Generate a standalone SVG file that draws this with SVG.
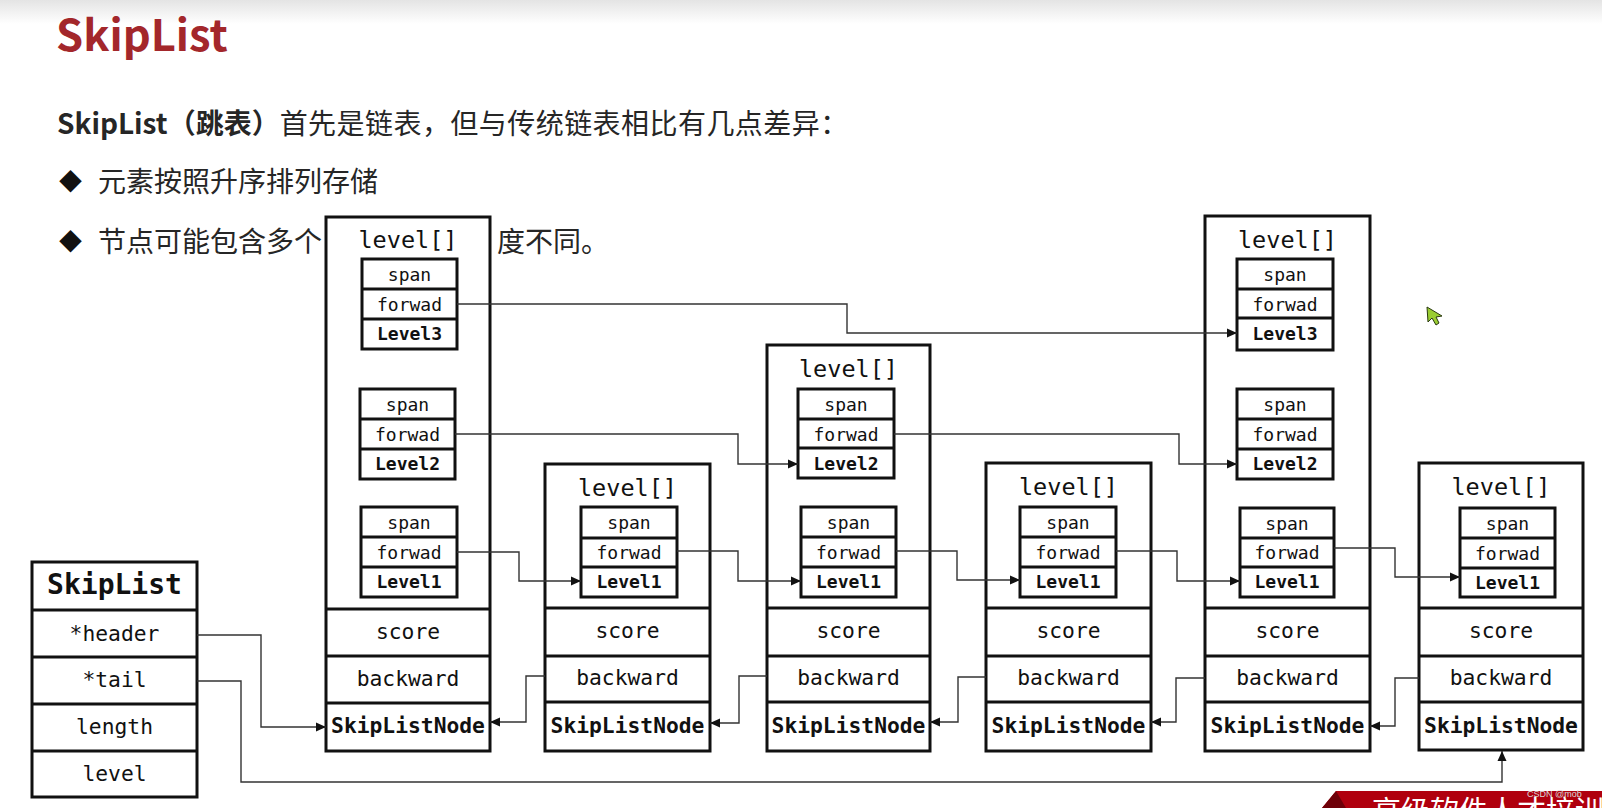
<svg xmlns="http://www.w3.org/2000/svg" width="1602" height="808" viewBox="0 0 1602 808">
<style>
.box{fill:#fff;stroke:#111;stroke-width:3}
.ib{fill:none;stroke:#111;stroke-width:3}
.sep{stroke:#111;stroke-width:3}
.mono{font-family:"DejaVu Sans Mono","Liberation Mono",monospace;fill:#111;text-anchor:middle}
.lv{font-size:23.5px}
.fd{font-size:21.3px}
.fb{font-size:21.3px;font-weight:bold}
.sm{font-size:18px}
.smb{font-size:18px;font-weight:bold}
.ttl{font-size:28px;font-weight:bold}
.cn{font-family:"Noto Sans CJK SC","Noto Sans",sans-serif;fill:#262626;font-size:28px}
.dia{font-family:"Noto Sans CJK SC","Noto Sans",sans-serif;fill:#111;font-size:23px}
.conn{fill:none;stroke:#333;stroke-width:1.4}
</style>
<defs>
<linearGradient id="topg" x1="0" y1="0" x2="0" y2="1">
<stop offset="0" stop-color="#e4e4e4"/>
<stop offset="1" stop-color="#ffffff"/>
</linearGradient>
<marker id="arr" markerWidth="11" markerHeight="10" refX="10" refY="5" orient="auto" markerUnits="userSpaceOnUse">
<path d="M0,0.5 L10,5 L0,9.5 z" fill="#111"/>
</marker>
</defs>
<rect x="0" y="0" width="1602" height="808" fill="#fff"/>
<rect x="0" y="0" width="1602" height="24" fill="url(#topg)"/>

<g id="header-text">
<text x="56" y="51" font-family="'Noto Sans CJK SC','Noto Sans',sans-serif" font-weight="bold" font-size="43.5" fill="#a3272b">SkipList</text>
<text class="cn" x="57" y="134"><tspan font-weight="bold">SkipList（跳表）</tspan><tspan letter-spacing="0.45">首先是链表，但与传统链表相比有几点差异：</tspan></text>
<text class="dia" x="59" y="190">◆</text>
<text class="cn" x="98" y="192">元素按照升序排列存储</text>
<text class="dia" x="59" y="250">◆</text>
<text class="cn" x="98" y="252">节点可能包含多个</text>
<text class="cn" x="497" y="252">度不同。</text>
</g>

<g id="skiplist">
<rect class="box" x="32" y="562" width="165" height="235"/>
<line class="sep" x1="32" y1="610" x2="197" y2="610"/>
<line class="sep" x1="32" y1="657" x2="197" y2="657"/>
<line class="sep" x1="32" y1="704" x2="197" y2="704"/>
<line class="sep" x1="32" y1="751" x2="197" y2="751"/>
<text class="mono ttl" x="114.5" y="594">SkipList</text>
<text class="mono fd" x="114.5" y="641">*header</text>
<text class="mono fd" x="114.5" y="687">*tail</text>
<text class="mono fd" x="114.5" y="734">length</text>
<text class="mono fd" x="114.5" y="781">level</text>
</g>

<g id="node1">
<rect class="box" x="326" y="217" width="164" height="534"/>
<line class="sep" x1="326" y1="609" x2="490" y2="609"/>
<line class="sep" x1="326" y1="656" x2="490" y2="656"/>
<line class="sep" x1="326" y1="703" x2="490" y2="703"/>
<text class="mono lv" x="408" y="248">level[]</text>
<rect class="ib" x="362" y="259" width="95" height="90"/>
<line class="sep" x1="362" y1="289" x2="457" y2="289"/>
<line class="sep" x1="362" y1="319" x2="457" y2="319"/>
<text class="mono sm" x="409.5" y="281">span</text>
<text class="mono sm" x="409.5" y="311">forwad</text>
<text class="mono smb" x="409.5" y="340">Level3</text>
<rect class="ib" x="360" y="389" width="95" height="90"/>
<line class="sep" x1="360" y1="419" x2="455" y2="419"/>
<line class="sep" x1="360" y1="449" x2="455" y2="449"/>
<text class="mono sm" x="407.5" y="411">span</text>
<text class="mono sm" x="407.5" y="441">forwad</text>
<text class="mono smb" x="407.5" y="470">Level2</text>
<rect class="ib" x="361" y="507" width="96" height="90"/>
<line class="sep" x1="361" y1="537" x2="457" y2="537"/>
<line class="sep" x1="361" y1="567" x2="457" y2="567"/>
<text class="mono sm" x="409" y="529">span</text>
<text class="mono sm" x="409" y="559">forwad</text>
<text class="mono smb" x="409" y="588">Level1</text>
<text class="mono fd" x="408" y="639">score</text>
<text class="mono fd" x="408" y="686">backward</text>
<text class="mono fb" x="408" y="733">SkipListNode</text>
</g>

<g id="node2">
<rect class="box" x="545" y="464" width="165" height="287"/>
<line class="sep" x1="545" y1="608" x2="710" y2="608"/>
<line class="sep" x1="545" y1="656" x2="710" y2="656"/>
<line class="sep" x1="545" y1="702" x2="710" y2="702"/>
<text class="mono lv" x="627.5" y="496">level[]</text>
<rect class="ib" x="581" y="507" width="96" height="90"/>
<line class="sep" x1="581" y1="538" x2="677" y2="538"/>
<line class="sep" x1="581" y1="567" x2="677" y2="567"/>
<text class="mono sm" x="629" y="529">span</text>
<text class="mono sm" x="629" y="559">forwad</text>
<text class="mono smb" x="629" y="588">Level1</text>
<text class="mono fd" x="627.5" y="638">score</text>
<text class="mono fd" x="627.5" y="685">backward</text>
<text class="mono fb" x="627.5" y="733">SkipListNode</text>
</g>

<g id="node3">
<rect class="box" x="767" y="345" width="163" height="406"/>
<line class="sep" x1="767" y1="608" x2="930" y2="608"/>
<line class="sep" x1="767" y1="656" x2="930" y2="656"/>
<line class="sep" x1="767" y1="702" x2="930" y2="702"/>
<text class="mono lv" x="848.5" y="377">level[]</text>
<rect class="ib" x="798" y="389" width="96" height="89"/>
<line class="sep" x1="798" y1="419" x2="894" y2="419"/>
<line class="sep" x1="798" y1="448" x2="894" y2="448"/>
<text class="mono sm" x="846" y="411">span</text>
<text class="mono sm" x="846" y="441">forwad</text>
<text class="mono smb" x="846" y="470">Level2</text>
<rect class="ib" x="801" y="507" width="95" height="90"/>
<line class="sep" x1="801" y1="537" x2="896" y2="537"/>
<line class="sep" x1="801" y1="567" x2="896" y2="567"/>
<text class="mono sm" x="848.5" y="529">span</text>
<text class="mono sm" x="848.5" y="559">forwad</text>
<text class="mono smb" x="848.5" y="588">Level1</text>
<text class="mono fd" x="848.5" y="638">score</text>
<text class="mono fd" x="848.5" y="685">backward</text>
<text class="mono fb" x="848.5" y="733">SkipListNode</text>
</g>

<g id="node4">
<rect class="box" x="986" y="463" width="165" height="288"/>
<line class="sep" x1="986" y1="608" x2="1151" y2="608"/>
<line class="sep" x1="986" y1="656" x2="1151" y2="656"/>
<line class="sep" x1="986" y1="702" x2="1151" y2="702"/>
<text class="mono lv" x="1068.5" y="495">level[]</text>
<rect class="ib" x="1020" y="507" width="96" height="90"/>
<line class="sep" x1="1020" y1="537" x2="1116" y2="537"/>
<line class="sep" x1="1020" y1="567" x2="1116" y2="567"/>
<text class="mono sm" x="1068" y="529">span</text>
<text class="mono sm" x="1068" y="559">forwad</text>
<text class="mono smb" x="1068" y="588">Level1</text>
<text class="mono fd" x="1068.5" y="638">score</text>
<text class="mono fd" x="1068.5" y="685">backward</text>
<text class="mono fb" x="1068.5" y="733">SkipListNode</text>
</g>

<g id="node5">
<rect class="box" x="1205" y="216" width="165" height="535"/>
<line class="sep" x1="1205" y1="608" x2="1370" y2="608"/>
<line class="sep" x1="1205" y1="656" x2="1370" y2="656"/>
<line class="sep" x1="1205" y1="702" x2="1370" y2="702"/>
<text class="mono lv" x="1287.5" y="248">level[]</text>
<rect class="ib" x="1237" y="259" width="96" height="91"/>
<line class="sep" x1="1237" y1="289" x2="1333" y2="289"/>
<line class="sep" x1="1237" y1="318" x2="1333" y2="318"/>
<text class="mono sm" x="1285" y="281">span</text>
<text class="mono sm" x="1285" y="311">forwad</text>
<text class="mono smb" x="1285" y="340">Level3</text>
<rect class="ib" x="1237" y="389" width="96" height="90"/>
<line class="sep" x1="1237" y1="419" x2="1333" y2="419"/>
<line class="sep" x1="1237" y1="449" x2="1333" y2="449"/>
<text class="mono sm" x="1285" y="411">span</text>
<text class="mono sm" x="1285" y="441">forwad</text>
<text class="mono smb" x="1285" y="470">Level2</text>
<rect class="ib" x="1240" y="508" width="94" height="89"/>
<line class="sep" x1="1240" y1="538" x2="1334" y2="538"/>
<line class="sep" x1="1240" y1="567" x2="1334" y2="567"/>
<text class="mono sm" x="1287" y="530">span</text>
<text class="mono sm" x="1287" y="559">forwad</text>
<text class="mono smb" x="1287" y="588">Level1</text>
<text class="mono fd" x="1287.5" y="638">score</text>
<text class="mono fd" x="1287.5" y="685">backward</text>
<text class="mono fb" x="1287.5" y="733">SkipListNode</text>
</g>

<g id="node6">
<rect class="box" x="1419" y="463" width="164" height="287"/>
<line class="sep" x1="1419" y1="608" x2="1583" y2="608"/>
<line class="sep" x1="1419" y1="656" x2="1583" y2="656"/>
<line class="sep" x1="1419" y1="702" x2="1583" y2="702"/>
<text class="mono lv" x="1501" y="495">level[]</text>
<rect class="ib" x="1460" y="508" width="95" height="89"/>
<line class="sep" x1="1460" y1="538" x2="1555" y2="538"/>
<line class="sep" x1="1460" y1="568" x2="1555" y2="568"/>
<text class="mono sm" x="1507.5" y="530">span</text>
<text class="mono sm" x="1507.5" y="560">forwad</text>
<text class="mono smb" x="1507.5" y="589">Level1</text>
<text class="mono fd" x="1501" y="638">score</text>
<text class="mono fd" x="1501" y="685">backward</text>
<text class="mono fb" x="1501" y="733">SkipListNode</text>
</g>

<g id="connectors">
<path class="conn" d="M457,304 H847 V333 H1237" marker-end="url(#arr)"/>
<path class="conn" d="M455,434 H738 V464 H798" marker-end="url(#arr)"/>
<path class="conn" d="M894,434 H1179 V464 H1237" marker-end="url(#arr)"/>
<path class="conn" d="M457,552 H519 V581 H581" marker-end="url(#arr)"/>
<path class="conn" d="M677,551 H738 V581 H801" marker-end="url(#arr)"/>
<path class="conn" d="M896,551 H957 V580 H1020" marker-end="url(#arr)"/>
<path class="conn" d="M1116,551 H1177 V581 H1240" marker-end="url(#arr)"/>
<path class="conn" d="M1334,548 H1395 V577 H1460" marker-end="url(#arr)"/>
<path class="conn" d="M545,676 H526 V722 H490" marker-end="url(#arr)"/>
<path class="conn" d="M767,676 H739 V723 H710" marker-end="url(#arr)"/>
<path class="conn" d="M986,677 H958 V722 H930" marker-end="url(#arr)"/>
<path class="conn" d="M1205,678 H1176 V722 H1151" marker-end="url(#arr)"/>
<path class="conn" d="M1419,678 H1395 V726 H1370" marker-end="url(#arr)"/>
<path class="conn" d="M197,635 H261 V727 H326" marker-end="url(#arr)"/>
<path class="conn" d="M197,681 H241 V782 H1502 V751" marker-end="url(#arr)"/>
</g>

<g id="cursor">
<path d="M1427,307 L1428,322 L1432,318 L1436,325 L1439,323 L1436,317 L1442,316 Z" fill="#9acd32" stroke="#2a3a10" stroke-width="1"/>
</g>

<g id="banner">
<path d="M1322,808 L1336,791 L1602,791 L1602,808 Z" fill="#b0000e"/>
<path d="M1322,808 L1336,791 L1346,808 Z" fill="#6e0008"/>
<text x="1372" y="822" font-family="'Noto Sans CJK SC',sans-serif" font-size="29" fill="#fff">高级软件人才培训</text>
<text x="1527" y="797" font-family="'Liberation Sans',sans-serif" font-size="9" fill="#d9d9d9">CSDN @mob</text>
</g>
</svg>
